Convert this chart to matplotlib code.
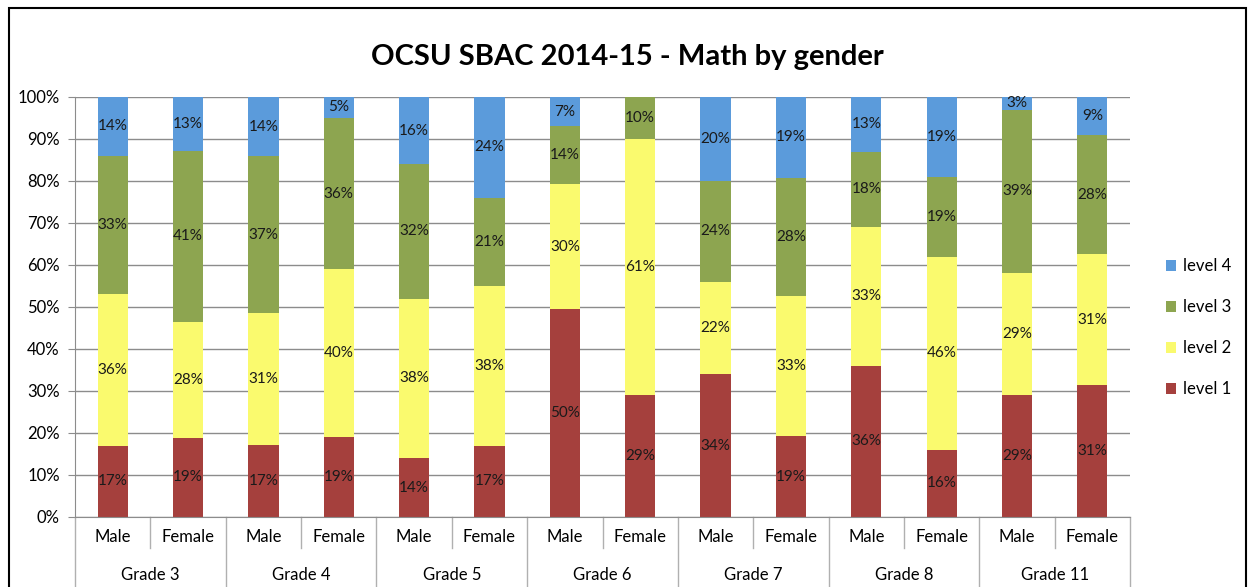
import numpy as np
import matplotlib.pyplot as plt
from matplotlib.patches import Rectangle

plt.rcParams['font.family'] = ['Lato', 'DejaVu Sans']

grades = ["Grade 3", "Grade 4", "Grade 5", "Grade 6", "Grade 7", "Grade 8", "Grade 11"]
genders = ["Male", "Female"]
levels = ["level 1", "level 2", "level 3", "level 4"]
colors = ["#A5403D", "#FAFA6E", "#8DA550", "#5B9BDB"]

# one entry per bar: Male, Female for each grade
level1 = [17, 19, 17, 19, 14, 17, 50, 29, 34, 19, 36, 16, 29, 31]
level2 = [36, 28, 31, 40, 38, 38, 30, 61, 22, 33, 33, 46, 29, 31]
level3 = [33, 41, 37, 36, 32, 21, 14, 10, 24, 28, 18, 19, 39, 28]
level4 = [14, 13, 14, 5, 16, 24, 7, 0, 20, 19, 13, 19, 3, 9]

data = np.array([level1, level2, level3, level4], dtype=float)
pct = data / data.sum(axis=0) * 100
n = data.shape[1]
x = np.arange(n)

fig = plt.figure(figsize=(12.55, 5.87), dpi=100)
ax = fig.add_axes([0.0598, 0.1193, 0.8406, 0.7155])

bottom = np.zeros(n)
handles = []
for k in range(4):
    b = ax.bar(x, pct[k], 0.4, bottom=bottom, color=colors[k], label=levels[k], zorder=2)
    handles.append(b)
    for i in range(n):
        if data[k, i] > 0:
            ax.text(x[i], bottom[i] + pct[k, i] / 2, f"{int(data[k, i])}%",
                    ha="center", va="center", fontsize=11, color="#1a1a1a", zorder=3)
    bottom += pct[k]

ax.set_xlim(-0.5, n - 0.5)
ax.set_ylim(0, 100)
ax.set_yticks(np.arange(0, 101, 10))
ax.set_yticklabels([f"{v}%" for v in range(0, 101, 10)], fontsize=12)
ax.yaxis.grid(True, color="#8c8c8c", linewidth=1, zorder=0)
ax.set_axisbelow(True)
ax.tick_params(axis="y", length=5, color="#8c8c8c", pad=6)
ax.set_xticks([])
for s in ["top", "right"]:
    ax.spines[s].set_visible(False)
for s in ["left", "bottom"]:
    ax.spines[s].set_color("#8c8c8c")

# two-level category axis
trans = ax.get_xaxis_transform()
for i in range(n):
    ax.text(x[i], -0.048, genders[i % 2], transform=trans, ha="center", va="center", fontsize=12)
for g, name in enumerate(grades):
    ax.text(2 * g + 0.5, -0.138, name, transform=trans, ha="center", va="center", fontsize=12)
for i in range(n + 1):
    xx = i - 0.5
    y1 = -0.2 if i % 2 == 0 else -0.075
    ax.plot([xx, xx], [0, y1], transform=trans, color="#b0b0b0", lw=1, clip_on=False)

ax.legend(handles[::-1], levels[::-1], loc="center left", bbox_to_anchor=(1.02, 0.45),
          frameon=False, fontsize=12, handlelength=0.6, handleheight=0.6,
          labelspacing=1.5, handletextpad=0.4)

fig.suptitle("OCSU SBAC 2014-15 - Math by gender", fontsize=21, fontweight="bold", y=0.925)

fig.patches.append(Rectangle((0.007, -0.05), 0.986, 1.036, transform=fig.transFigure,
                             fill=False, edgecolor="black", linewidth=1.5))

fig.savefig("out.png", dpi=100)
